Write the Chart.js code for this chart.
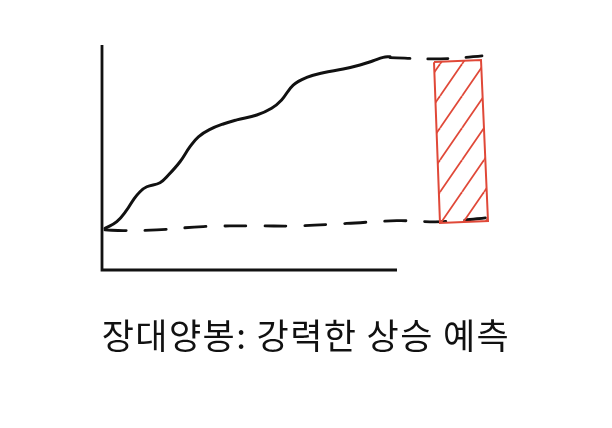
<!DOCTYPE html>
<html>
<head>
<meta charset="utf-8">
<script src="https://cdn.jsdelivr.net/npm/chart.js@4/dist/chart.umd.min.js"></script>
<style>
  html, body { margin: 0; padding: 0; background: #fff; }
  #wrap { position: relative; width: 612px; height: 428px; }
  #title {
    position: absolute; left: 0; width: 612px; top: 314px;
    text-align: center; font-family: "Noto Sans CJK KR", "Noto Sans", sans-serif;
    font-size: 35px; line-height: 40px; letter-spacing: 1.4px; color: #111; font-weight: 400;
  }
</style>
</head>
<body>
<div id="wrap">
  <canvas id="c"></canvas>
  <div id="title">장대양봉: 강력한 상승 예측</div>
</div>
<script>
// price path (x = time, y = price)
const curveX = [0.75, 3.7, 6.2, 7.8, 9.5, 11.2, 14.5, 16.6, 19.5, 22.0, 24.1, 27.0, 30.3, 33.7, 38.7, 42.4, 44.9, 47.8, 51.2, 55.3, 60.3, 64.5, 67.8, 70.3, 72.0];
const curveY = [18.5, 21.5, 26.7, 31.1, 34.8, 37.0, 38.8, 42.2, 48.1, 54.8, 59.2, 62.5, 64.9, 66.7, 68.9, 71.9, 75.6, 82.2, 85.6, 87.7, 89.3, 91.1, 93.0, 94.5, 94.8];
// dashed high level
const highX = [72.0, 82.0, 89.0, 95.0];
const highY = [94.4, 93.8, 94.2, 95.2];
// dashed base level
const lowX = [0.75, 5.3, 13.7, 25.3, 38.7, 48.7, 61.2, 73.7, 85.3, 98.7];
const lowY = [17.8, 17.5, 17.8, 19.3, 19.6, 19.6, 20.7, 21.9, 21.5, 23.7];
// long candle body (corners)
const candleX = [83.0, 94.75, 96.5, 84.5, 83.0];
const candleY = [92.4, 93.3, 21.8, 20.9, 92.4];
// x-axis drawn length
const axisEndX = 73.75;

const zip = (xs, ys) => xs.map((x, i) => ({ x, y: ys[i] }));

function hatch() {
  const w = 22, h = 32;
  const cv = document.createElement('canvas');
  cv.width = w; cv.height = h;
  const g = cv.getContext('2d');
  g.strokeStyle = 'rgb(224,72,56)';
  g.lineWidth = 1.8;
  for (const dx of [-w, 0, w]) {
    g.beginPath(); g.moveTo(dx, h); g.lineTo(dx + w, 0); g.stroke();
  }
  return g.createPattern(cv, 'repeat');
}

const axesPlugin = {
  id: 'handAxes',
  beforeDatasetsDraw(chart) {
    const { ctx, scales: { x, y } } = chart;
    ctx.save();
    ctx.strokeStyle = '#111';
    ctx.lineWidth = 2.8;
    ctx.beginPath();
    ctx.moveTo(x.getPixelForValue(0), y.getPixelForValue(100));
    ctx.lineTo(x.getPixelForValue(0), y.getPixelForValue(0));
    ctx.lineTo(x.getPixelForValue(axisEndX), y.getPixelForValue(0));
    ctx.stroke();
    ctx.restore();
  }
};

new Chart(document.getElementById('c'), {
  type: 'line',
  data: {
    datasets: [
      { data: zip(candleX, candleY), borderColor: 'rgb(224,72,56)', borderWidth: 2,
        backgroundColor: hatch(), fill: 'shape', tension: 0, pointRadius: 0, clip: false },
      { data: zip(curveX, curveY), borderColor: '#111', borderWidth: 3,
        tension: 0.4, pointRadius: 0, fill: false, clip: false, borderCapStyle: 'round' },
      { data: zip(highX, highY), borderColor: '#111', borderWidth: 2.8, borderDash: [20, 18],
        tension: 0.4, pointRadius: 0, fill: false, clip: false, borderCapStyle: 'round' },
      { data: zip(lowX, lowY), borderColor: '#111', borderWidth: 2.8, borderDash: [21, 19],
        tension: 0.4, pointRadius: 0, fill: false, clip: false, borderCapStyle: 'round' }
    ]
  },
  options: {
    responsive: true, maintainAspectRatio: false, animation: false,
    layout: { padding: { left: 102, right: 110, top: 45, bottom: 158 } },
    scales: {
      x: { type: 'linear', min: 0, max: 100, display: false },
      y: { type: 'linear', min: 0, max: 100, display: false }
    },
    plugins: { legend: { display: false }, tooltip: { enabled: false }, title: { display: false } }
  },
  plugins: [axesPlugin]
});
</script>
</body>
</html>
